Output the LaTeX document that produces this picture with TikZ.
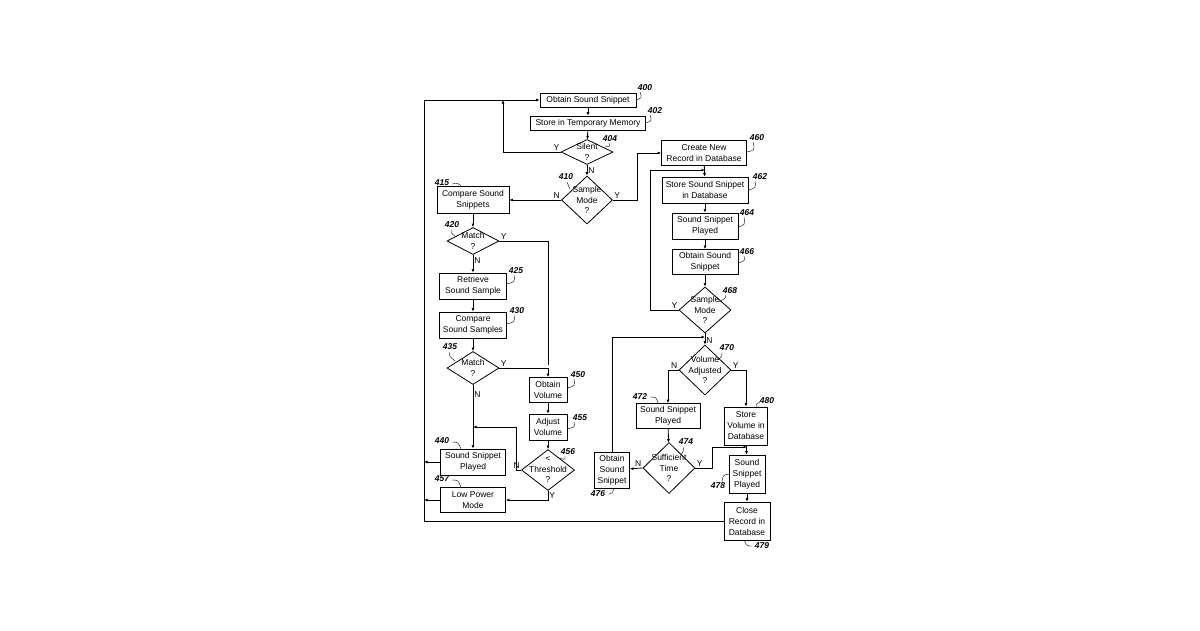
\documentclass[tikz,border=0pt]{standalone}
\usepackage{fontspec}
\setmainfont{Liberation Sans}
\usetikzlibrary{shapes.geometric, arrows.meta}
\begin{document}
\begin{tikzpicture}[x=1pt, y=-1pt,
    box/.style={draw, thick, fill=white, inner sep=0pt, align=center, font=\fontsize{8.5}{11}\selectfont},
    dec/.style={draw, thick, diamond, inner sep=0pt, fill=white},
    txt/.style={font=\fontsize{8.5}{10.5}\selectfont, align=center},
    flow/.style={-{Latex[length=3.5pt,width=3pt]}, thick},
    line/.style={thick},
    num/.style={font=\fontsize{8.5}{10}\selectfont\bfseries\itshape},
    yn/.style={font=\fontsize{8.5}{10}\selectfont, inner sep=1pt}
    ]
    \useasboundingbox (0,0) rectangle (1200,630);

    % boxes
    \node[box, minimum width=96, minimum height=14] (s400) at (588,100) {Obtain Sound Snippet};
    \node[box, minimum width=115, minimum height=14] (s402) at (588,123) {Store in Temporary Memory};
    \node[box, minimum width=72, minimum height=27] (s415) at (473,200) {Compare Sound\\Snippets};
    \node[box, minimum width=67, minimum height=26] (s425) at (473,286) {Retrieve\\Sound Sample};
    \node[box, minimum width=67, minimum height=26] (s430) at (473,325) {Compare\\Sound Samples};
    \node[box, minimum width=38, minimum height=25] (s450) at (548,390) {Obtain\\Volume};
    \node[box, minimum width=38, minimum height=26] (s455) at (548,427) {Adjust\\Volume};
    \node[box, minimum width=65, minimum height=26] (s440) at (473,462) {Sound Snippet\\Played};
    \node[box, minimum width=65, minimum height=25] (s457) at (473,500) {Low Power\\Mode};
    \node[box, minimum width=85, minimum height=25] (s460) at (704,153) {Create New\\Record in Database};
    \node[box, minimum width=86, minimum height=26] (s462) at (705,190) {Store Sound Snippet\\in Database};
    \node[box, minimum width=66, minimum height=26] (s464) at (705,226) {Sound Snippet\\Played};
    \node[box, minimum width=66, minimum height=25] (s466) at (705,262) {Obtain Sound\\Snippet};
    \node[box, minimum width=64, minimum height=25] (s472) at (668,416) {Sound Snippet\\Played};
    \node[box, minimum width=43, minimum height=38] (s480) at (746,426) {Store\\Volume in\\Database};
    \node[box, minimum width=36, minimum height=38] (s478) at (747,474) {Sound\\Snippet\\Played};
    \node[box, minimum width=46, minimum height=38] (s479) at (747,521) {Close\\Record in\\Database};
    \node[box, minimum width=35, minimum height=36] (s476) at (612,470) {Obtain\\Sound\\Snippet};

    % decisions
    \node[dec, minimum width=52, minimum height=25, label={[txt]center:Silent\\?}] (s404) at (587,152) {};
    \node[dec, minimum width=51, minimum height=48, label={[txt]center:Sample\\Mode\\?}] (s410) at (587,200) {};
    \node[dec, minimum width=52, minimum height=27, label={[txt]center:Match\\?}] (s420) at (473,241) {};
    \node[dec, minimum width=52, minimum height=33, label={[txt]center:Match\\?}] (s435) at (473,368) {};
    \node[dec, minimum width=53, minimum height=41, label={[txt]center:<\\Threshold\\?}] (s456) at (548,470) {};
    \node[dec, minimum width=52, minimum height=46, label={[txt]center:Sample\\Mode\\?}] (s468) at (705,310) {};
    \node[dec, minimum width=52, minimum height=50, label={[txt]center:Volume\\Adjusted\\?}] (s470) at (705,370) {};
    \node[dec, minimum width=52, minimum height=51, label={[txt]center:Sufficient\\Time\\?}] (s474) at (669,468) {};

    % helper points
    \coordinate (cl) at (424,100);
    \coordinate (cm) at (473,427);
    \coordinate (cs) at (705,170);
    \coordinate (ct) at (705,337);
    \coordinate (cv) at (747,447);
    \coordinate (cy) at (548,365);

    % connectors
    \draw[flow] (s400) -- (s402);
    \draw[flow] (s402) -- (s404);
    \draw[flow] (s404) -- node[yn, right] {N} (s410);
    \draw[flow] (s404.west) node[yn, above left] {Y} -| (503,100);
    \draw[flow] (s410.west) node[yn, above left] {N} -- (s415);
    \draw[flow] (s410.east) node[yn, above right] {Y} -| (637,153) -- (s460);
    \draw[flow] (s415) -- (s420);
    \draw[flow] (s420) -- node[yn, right, pos=.3] {N} (s425);
    \draw[line] (s420.east) node[yn, above right] {Y} -| (cy);
    \draw[flow] (s425) -- (s430);
    \draw[flow] (s430) -- (s435);
    \draw[flow] (s435.east) node[yn, above right] {Y} -| (s450);
    \draw[flow] (s435) -- node[yn, right, pos=.15] {N} (s440);
    \draw[flow] (s450) -- (s455);
    \draw[flow] (s455) -- (s456);
    \draw[flow] (s456.west) node[yn, above left] {N} -| (516,427) -- (cm);
    \draw[flow] (s456.south) node[yn, below right] {Y} |- (s457);
    \draw[flow] (s440) -- (424,462);
    \draw[flow] (s457) -- (424,500);
    \draw[flow] (s479.west) -- (424,521) -- (cl) -- (s400);
    \draw[flow] (s460) -- (s462);
    \draw[flow] (s462) -- (s464);
    \draw[flow] (s464) -- (s466);
    \draw[flow] (s466) -- (s468);
    \draw[flow] (s468.west) node[yn, above left] {Y} -| (650,170) -- (cs);
    \draw[flow] (s468) -- node[yn, right, pos=.6] {N} (s470);
    \draw[flow] (s470.west) node[yn, above left] {N} -| (s472);
    \draw[flow] (s470.east) node[yn, above right] {Y} -| (s480);
    \draw[flow] (s472) -- (s474);
    \draw[flow] (s474.west) node[yn, above left] {N} -- (s476);
    \draw[flow] (s474.east) node[yn, above right] {Y} -| (712,447) -- (cv);
    \draw[flow] (s476) |- (ct);
    \draw[flow] (s480) -- (s478);
    \draw[flow] (s478) -- (s479);

    % reference numbers
    \node[num] at (645,88) {400};
    \draw (636,100) .. controls (642,98) .. (640,92);
    \node[num] at (655,111) {402};
    \draw (645,123) .. controls (652,121) .. (650,115);
    \node[num] at (610,139) {404};
    \draw (605,146) .. controls (610,147) .. (609,143);
    \node[num] at (566,177) {410};
    \draw (570,189) .. controls (568,186) .. (567,182);
    \node[num] at (442,183) {415};
    \draw (452,184) .. controls (458,183) .. (462,187);
    \node[num] at (452,225) {420};
    \draw (452,230) .. controls (451,233) .. (455,236);
    \node[num] at (516,271) {425};
    \draw (506,284) .. controls (515,282) .. (514,275);
    \node[num] at (517,311) {430};
    \draw (506,324) .. controls (515,322) .. (514,315);
    \node[num] at (450,347) {435};
    \draw (450,352) .. controls (449,356) .. (455,361);
    \node[num] at (578,375) {450};
    \draw (567,388) .. controls (575,386) .. (574,379);
    \node[num] at (580,418) {455};
    \draw (567,429) .. controls (575,427) .. (574,422);
    \node[num] at (568,452) {456};
    \draw (560,458) .. controls (565,460) .. (565,456);
    \node[num] at (442,441) {440};
    \draw (452,442) .. controls (458,442) .. (461,449);
    \node[num] at (442,479) {457};
    \draw (452,480) .. controls (458,480) .. (461,487);
    \node[num] at (757,138) {460};
    \draw (747,152) .. controls (755,150) .. (753,142);
    \node[num] at (760,177) {462};
    \draw (748,190) .. controls (756,188) .. (755,181);
    \node[num] at (747,213) {464};
    \draw (738,227) .. controls (745,225) .. (744,217);
    \node[num] at (747,252) {466};
    \draw (738,263) .. controls (745,261) .. (744,256);
    \node[num] at (730,291) {468};
    \draw (718,302) .. controls (725,299) .. (726,295);
    \node[num] at (727,348) {470};
    \draw (718,360) .. controls (722,356) .. (722,352);
    \node[num] at (640,397) {472};
    \draw (650,397) .. controls (656,397) .. (658,403);
    \node[num] at (686,442) {474};
    \draw (681,455) .. controls (683,452) .. (684,447);
    \node[num] at (767,401) {480};
    \draw (757,407) .. controls (756,404) .. (760,402);
    \node[num] at (718,486) {478};
    \draw (729,474) .. controls (723,475) .. (722,482);
    \node[num] at (762,546) {479};
    \draw (744,540) .. controls (747,546) .. (752,546);
    \node[num] at (598,494) {476};
    \draw (608,494) .. controls (612,494) .. (614,488);
\end{tikzpicture}
\end{document}
